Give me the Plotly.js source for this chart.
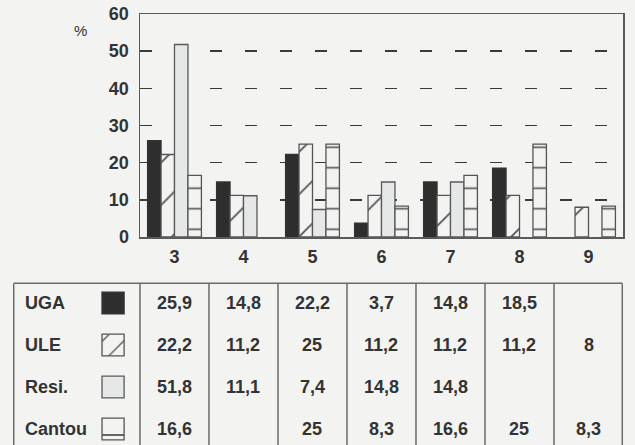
<!DOCTYPE html>
<html><head><meta charset="utf-8">
<script src="https://cdn.plot.ly/plotly-3.0.1.min.js"></script>
<style>html,body{margin:0;padding:0;background:#f3f3f2}</style>
</head><body><div id="chart" style="width:635px;height:445px"></div>
<script>
// ---- data ----
const categories = [3, 4, 5, 6, 7, 8, 9];
const seriesNames = ['UGA', 'ULE', 'Resi.', 'Cantou'];
const uga    = [25.9, 14.8, 22.2, 3.7, 14.8, 18.5, null];
const ule    = [22.2, 11.2, 25, 11.2, 11.2, 11.2, 8];
const resi   = [51.8, 11.1, 7.4, 14.8, 14.8, null, null];
const cantou = [16.6, null, 25, 8.3, 16.6, 25, 8.3];
const yTicks = [0, 10, 20, 30, 40, 50, 60];
const yUnit = '%';

// ---- styles ----
const BG = '#f3f3f2';
const FONT = 'Liberation Sans, Arial, Helvetica, sans-serif';
const series = [uga, ule, resi, cantou];
const styles = [
  {color: '#2e2e2e', line: '#333'},
  {color: BG, line: '#555', pattern: {shape: '/', size: 30, solidity: 0.06, fgcolor: '#555', bgcolor: BG, fillmode: 'replace'}},
  {color: '#e6e7e7', line: '#5a5a5a'},
  {color: BG, line: '#555', pattern: {shape: '-', size: 20.5, solidity: 0.08, fgcolor: '#555', bgcolor: BG, fillmode: 'replace'}}
];
function marker(s) {
  const m = {color: s.color, line: {color: s.line, width: 1.3}};
  if (s.pattern) m.pattern = s.pattern;
  return m;
}

const traces = series.map((vals, i) => ({
  type: 'bar', name: seriesNames[i], x: categories, y: vals,
  marker: marker(styles[i]), hoverinfo: 'skip', showlegend: false
}));

// legend swatches inside the table (x2/y2 subplot)
series.forEach((vals, i) => {
  const sw = Object.assign({}, styles[i]);
  if (sw.pattern) sw.pattern = Object.assign({}, sw.pattern, sw.pattern.shape === '/' ? {size: 15, solidity: 0.09} : {size: 18, solidity: 0.1});
  traces.push({
    type: 'bar', x: [2.11], y: [-0.52], base: [i + 0.26], width: [0.32], offset: -0.16,
    xaxis: 'x2', yaxis: 'y2', marker: marker(sw), hoverinfo: 'skip', showlegend: false
  });
});

const fmt = v => String(v).replace('.', ',');
const tfont = {family: FONT, size: 18, color: '#333', weight: 'bold'};
const annotations = [];
series.forEach((vals, i) => {
  annotations.push({xref: 'x2', yref: 'y2', x: 0.8, y: i, xanchor: 'left', text: seriesNames[i], showarrow: false, font: tfont});
  vals.forEach((v, j) => {
    if (v !== null) annotations.push({xref: 'x2', yref: 'y2', x: categories[j], y: i, text: fmt(v), showarrow: false, font: tfont});
  });
});
annotations.push({xref: 'paper', yref: 'paper', x: 0.11, y: 0.962, xanchor: 'center', yanchor: 'middle', text: yUnit, showarrow: false,
  font: {family: FONT, size: 15, color: '#333'}});

// table grid lines
const LC = '#6a6a6a';
const shapes = [
  {type: 'line', xref: 'x2', yref: 'y2', x0: 0.67, x1: 9.49, y0: -0.47, y1: -0.47, line: {color: LC, width: 1.5}},
  {type: 'line', xref: 'x2', yref: 'paper', x0: 0.67, x1: 0.67, y0: 0, y1: 0.3745, line: {color: LC, width: 1.5}},
  {type: 'line', xref: 'x2', yref: 'paper', x0: 9.49, x1: 9.49, y0: 0, y1: 0.3745, line: {color: LC, width: 1.5}}
];
categories.forEach(c => shapes.push({type: 'line', xref: 'x2', yref: 'paper', x0: c - 0.5, x1: c - 0.5, y0: 0, y1: 0.3745, line: {color: LC, width: 1.5}}));

const tickfont = {family: FONT, size: 18, color: '#333', weight: 'bold'};
const layout = {
  width: 635, height: 445,
  paper_bgcolor: BG, plot_bgcolor: BG,
  margin: {l: 13, r: 12, t: 14, b: 0},
  barmode: 'group', bargap: 0.22, bargroupgap: 0,
  xaxis: {domain: [127 / 610, 1], range: [2.5, 9.5], tickvals: categories, showline: true, mirror: true,
    linecolor: '#5a5a5a', linewidth: 1.5, showgrid: false, zeroline: false, ticks: '', tickfont: tickfont,
    ticklabelstandoff: 3, fixedrange: true},
  yaxis: {domain: [208 / 431, 1], range: [0, 60], tickvals: yTicks, showline: true, mirror: true,
    linecolor: '#5a5a5a', linewidth: 1.5, showgrid: true, gridcolor: '#3a3a3a', gridwidth: 1.5,
    griddash: '12px,23px', zeroline: false, ticks: '', tickfont: tickfont, ticklabelstandoff: 6, fixedrange: true},
  xaxis2: {domain: [0, 1], range: [0.66, 9.5], visible: false, anchor: 'y2', fixedrange: true},
  yaxis2: {domain: [0, 163 / 431], range: [3.38, -0.5], visible: false, anchor: 'x2', fixedrange: true},
  annotations: annotations,
  shapes: shapes
};
Plotly.newPlot('chart', traces, layout, {displayModeBar: false, staticPlot: true});
</script></body></html>
